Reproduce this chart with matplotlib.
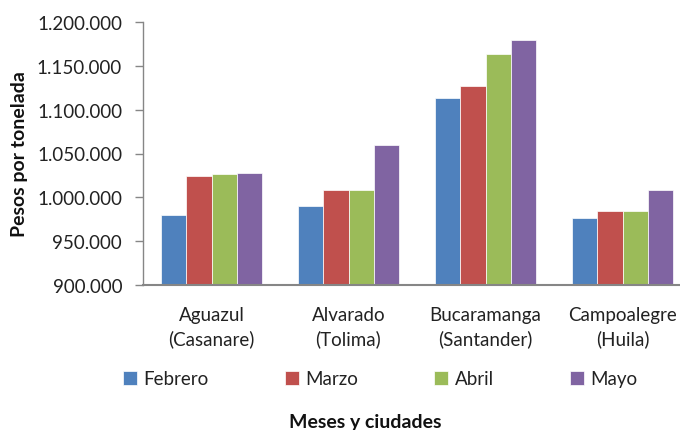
import matplotlib
matplotlib.use("Agg")
import matplotlib.pyplot as plt
import numpy as np
from matplotlib.ticker import FuncFormatter

plt.rcParams['font.family'] = ['Lato', 'DejaVu Sans']

categories = ["Aguazul\n(Casanare)", "Alvarado\n(Tolima)", "Bucaramanga\n(Santander)", "Campoalegre\n(Huila)"]
series_names = ["Febrero", "Marzo", "Abril", "Mayo"]
febrero = [980000, 990000, 1113000, 976000]
marzo = [1024000, 1008000, 1127000, 984000]
abril = [1027000, 1008000, 1163000, 984000]
mayo = [1028000, 1060000, 1179000, 1008000]
yticks = [900000, 950000, 1000000, 1050000, 1100000, 1150000, 1200000]
colors = ["#4F81BD", "#C0504D", "#9BBB59", "#8064A2"]

fig = plt.figure(figsize=(6.8, 4.31), dpi=100)
ax = fig.add_axes([143/680, (431-286)/431, (691-143)/680, (286-23)/431])

x = np.arange(len(categories))
w = 0.183
data = [febrero, marzo, abril, mayo]
handles = []
for i, (vals, name, c) in enumerate(zip(data, series_names, colors)):
    b = ax.bar(x + (i - 1.5) * w, np.array(vals) - 900000, width=w, bottom=900000,
               color=c, edgecolor='white', linewidth=0.5, label=name)
    handles.append(b)

ax.set_xlim(-0.5, len(categories) - 0.5)
ax.set_ylim(900000, 1200000)
ax.set_yticks(yticks)
ax.yaxis.set_major_formatter(FuncFormatter(lambda v, p: f"{int(v):,}".replace(",", ".")))
ax.set_xticks(x)
ax.set_xticklabels(categories, fontsize=13.5, color='#222222', linespacing=1.4)
ax.tick_params(axis='x', length=0, pad=15)
ax.tick_params(axis='y', length=6, width=1, color='#868686', labelsize=13.5, labelcolor='#222222', pad=9)
for s in ['top', 'right']:
    ax.spines[s].set_visible(False)
ax.spines['left'].set_color('#868686')
ax.spines['bottom'].set_color('#868686')
ax.spines['left'].set_linewidth(1)
ax.spines['bottom'].set_linewidth(1.5)

ax.set_ylabel("Pesos por tonelada", fontsize=14, fontweight='bold', color='#111111')
ax.yaxis.set_label_coords(-143/548 + 28/548, 0.5)
fig.text(365/680, 1 - 423/431, "Meses y ciudades", fontsize=14, fontweight='bold',
         ha='center', va='center', color='#111111')

leg = fig.legend(handles=handles, labels=series_names, loc='center left', ncol=4,
                 bbox_to_anchor=(123/680, 1 - 380/431), frameon=False, fontsize=13.5,
                 handlelength=0.75, handleheight=0.75, handletextpad=0.35, columnspacing=4.05,
                 borderaxespad=0, borderpad=0)
for t in leg.get_texts():
    t.set_color('#222222')

fig.savefig("out.png", dpi=100)
